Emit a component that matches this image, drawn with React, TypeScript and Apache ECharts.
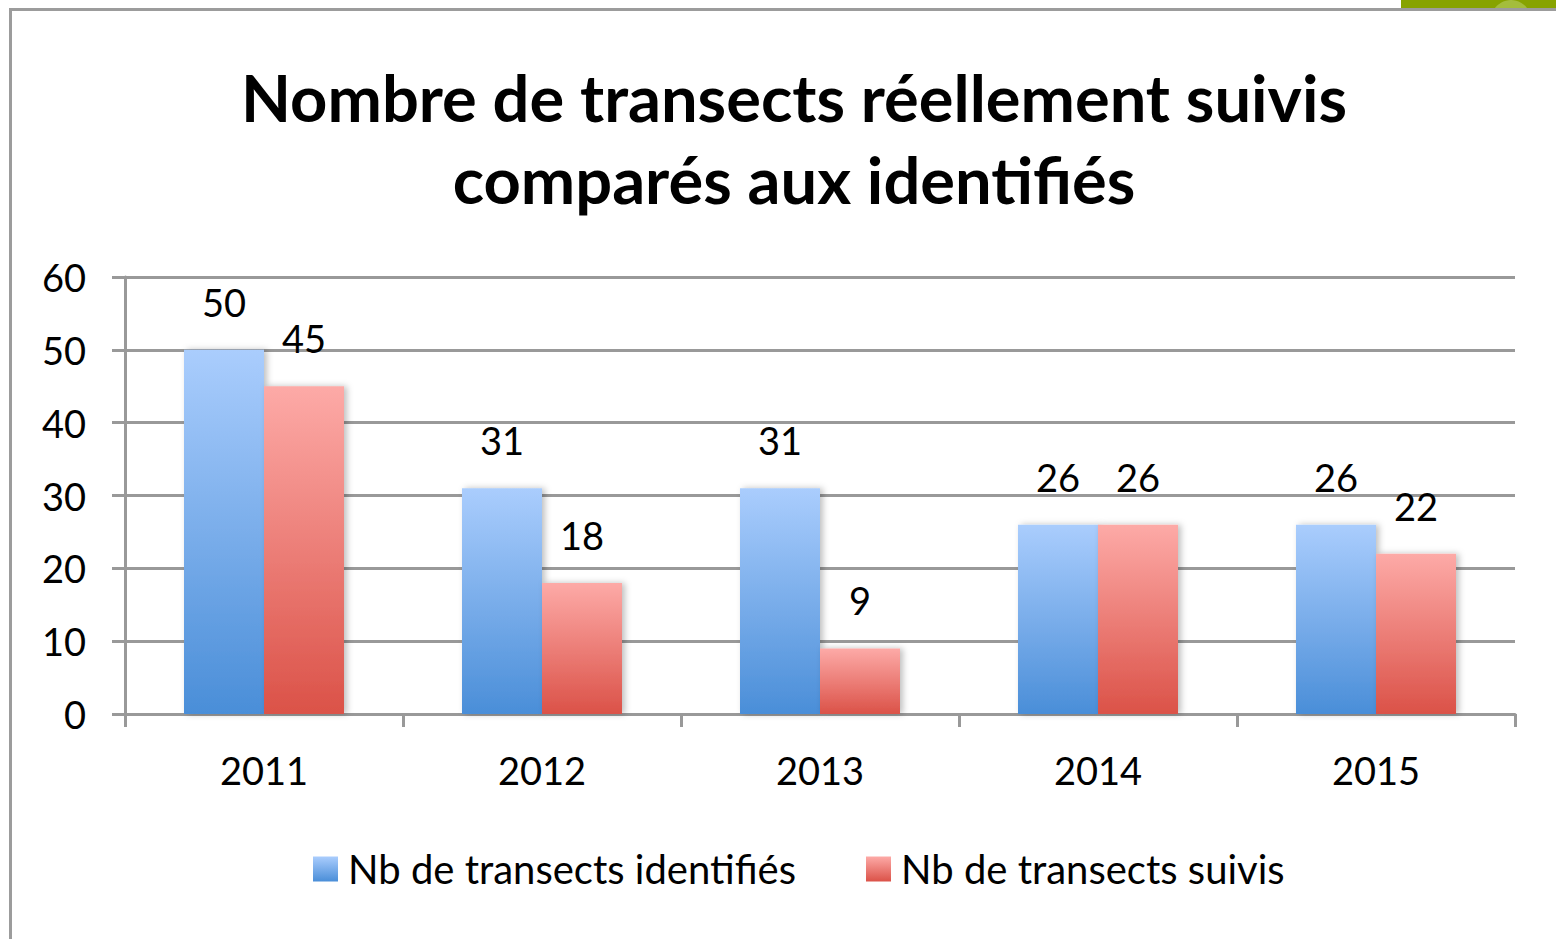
import React, { useEffect, useRef } from "react";
import * as echarts from "echarts";

const years = ["2011", "2012", "2013", "2014", "2015"];
const identified = [50, 31, 31, 26, 26];
const followed = [45, 18, 9, 26, 22];
const seriesNames = ["Nb de transects identifiés", "Nb de transects suivis"];
const titleText = "Nombre de transects réellement suivis\ncomparés aux identifiés";

const FONT = "Lato";
const GRAY = "#999999";

const blueGrad = new echarts.graphic.LinearGradient(0, 0, 0, 1, [
  { offset: 0, color: "#aacdfd" },
  { offset: 1, color: "#4a8ed8" },
]);
const redGrad = new echarts.graphic.LinearGradient(0, 0, 0, 1, [
  { offset: 0, color: "#fdaaa7" },
  { offset: 1, color: "#db5248" },
]);

export default function App() {
  const ref = useRef<HTMLDivElement>(null);
  useEffect(() => {
    if (!ref.current) return;
    const chart = echarts.init(ref.current, null, { renderer: "svg" });
    const label = {
      show: true,
      position: "top",
      distance: 29,
      fontFamily: FONT,
      fontSize: 38,
      color: "#000",
    };
    chart.setOption({
      animation: false,
      backgroundColor: "#ffffff",
      title: {
        text: titleText,
        left: 789,
        top: 51,
        textAlign: "center",
        textStyle: {
          fontFamily: FONT,
          fontWeight: "bold",
          fontSize: 65,
          lineHeight: 82,
          color: "#000",
        },
      },
      legend: {
        bottom: 45,
        left: 308,
        itemWidth: 25,
        itemHeight: 25,
        itemGap: 70,
        icon: "rect",
        textStyle: { fontFamily: FONT, fontSize: 40, color: "#000", padding: [0, 0, 0, 5] },
        data: seriesNames,
      },
      grid: { left: 125, right: 41, top: 277, bottom: 225, containLabel: false },
      xAxis: {
        type: "category",
        data: years,
        axisLine: { show: true, lineStyle: { color: GRAY, width: 3 } },
        axisTick: { show: true, length: 13, lineStyle: { color: GRAY, width: 3 } },
        axisLabel: { fontFamily: FONT, fontSize: 38, color: "#000", margin: 37 },
      },
      yAxis: {
        type: "value",
        min: 0,
        max: 60,
        interval: 10,
        axisLine: { show: true, lineStyle: { color: GRAY, width: 3 } },
        axisTick: { show: true, length: 13, lineStyle: { color: GRAY, width: 3 } },
        splitLine: { show: true, lineStyle: { color: GRAY, width: 3 } },
        axisLabel: { fontFamily: FONT, fontSize: 38, color: "#000", margin: 39 },
      },
      series: [
        {
          name: seriesNames[0],
          type: "bar",
          data: identified,
          barWidth: 80,
          barGap: "0%",
          itemStyle: {
            color: blueGrad,
            shadowColor: "rgba(0,0,0,0.25)",
            shadowBlur: 6,
            shadowOffsetX: 3,
          },
          label,
        },
        {
          name: seriesNames[1],
          type: "bar",
          data: followed,
          barWidth: 80,
          barGap: "0%",
          itemStyle: {
            color: redGrad,
            shadowColor: "rgba(0,0,0,0.25)",
            shadowBlur: 6,
            shadowOffsetX: 3,
          },
          label,
        },
      ],
      graphic: [
        { type: "rect", shape: { x: 1401, y: 0, width: 155, height: 8 }, style: { fill: "#87a300" }, z: 100 },
        { type: "circle", shape: { cx: 1511, cy: 20, r: 20 }, style: { fill: "#a4bd3c" }, z: 101 },
        { type: "rect", shape: { x: 1480, y: 11, width: 76, height: 40 }, style: { fill: "#ffffff" }, z: 102 },
        { type: "rect", shape: { x: 9, y: 8, width: 1547, height: 3 }, style: { fill: "#9c9c9c" }, z: 103 },
        { type: "rect", shape: { x: 9, y: 8, width: 3, height: 931 }, style: { fill: "#9c9c9c" }, z: 103 },
      ],
    });
    return () => chart.dispose();
  }, []);
  return (
    <div
      ref={ref}
      style={{ position: "absolute", left: 0, top: 0, width: 1556, height: 939 }}
    />
  );
}
